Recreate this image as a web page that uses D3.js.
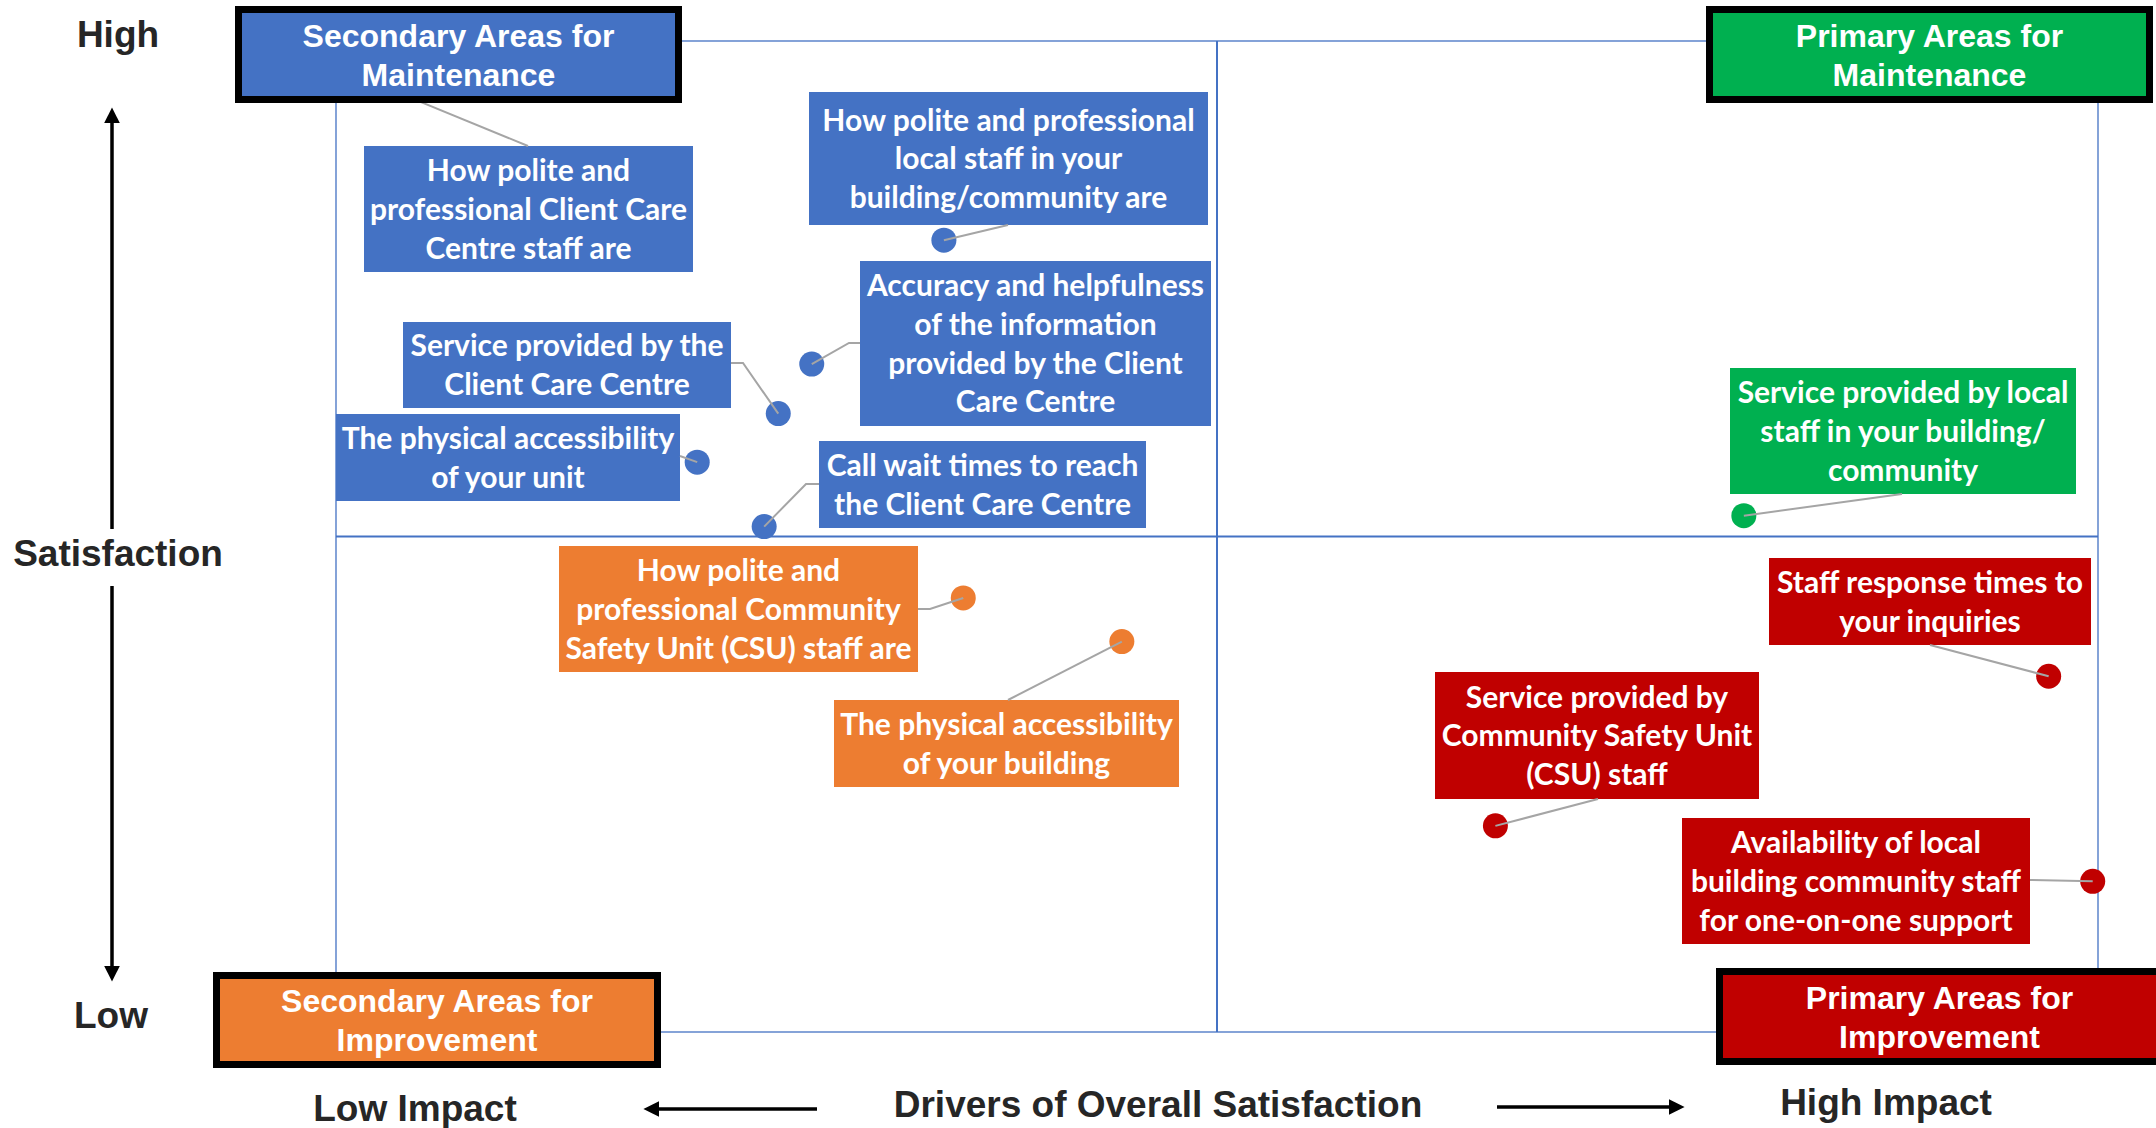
<!DOCTYPE html>
<html>
<head>
<meta charset="utf-8">
<script src="https://cdn.jsdelivr.net/npm/d3@7"></script>
<style>
  body { margin: 0; background: #fff; }
</style>
</head>
<body>
<div id="chart"></div>
<script>
// drivers of overall satisfaction, with impact (x) and satisfaction (y) on a 0-100 scale
var drivers = [
  "How polite and professional local staff in your building/community are",
  "How polite and professional Client Care Centre staff are",
  "Service provided by the Client Care Centre",
  "Accuracy and helpfulness of the information provided by the Client Care Centre",
  "The physical accessibility of your unit",
  "Call wait times to reach the Client Care Centre",
  "How polite and professional Community Safety Unit (CSU) staff are",
  "The physical accessibility of your building",
  "Service provided by local staff in your building/ community",
  "Staff response times to your inquiries",
  "Service provided by Community Safety Unit (CSU) staff",
  "Availability of local building community staff for one-on-one support"
];
var impact = [34.5, 3.1, 25.1, 27.0, 20.5, 24.3, 35.6, 44.6, 79.9, 97.2, 65.8, 99.7];
var satisfaction = [79.9, 95.1, 62.4, 67.4, 57.5, 51.0, 43.8, 39.4, 52.1, 35.9, 20.8, 15.2];

// the label text, broken into lines as in the original
var labelLines = [
  ["How polite and professional", "local staff in your", "building/community are"],
  ["How polite and", "professional Client Care", "Centre staff are"],
  ["Service provided by the", "Client Care Centre"],
  ["Accuracy and helpfulness", "of the information", "provided by the Client", "Care Centre"],
  ["The physical accessibility", "of your unit"],
  ["Call wait times to reach", "the Client Care Centre"],
  ["How polite and", "professional Community", "Safety Unit (CSU) staff are"],
  ["The physical accessibility", "of your building"],
  ["Service provided by local", "staff in your building/", "community"],
  ["Staff response times to", "your inquiries"],
  ["Service provided by", "Community Safety Unit", "(CSU) staff"],
  ["Availability of local", "building community staff", "for one-on-one support"]
];

// quadrants, in order: low impact/high sat, high/high, low/low, high impact/low sat
var quadrantNames = [
  ["Secondary Areas for", "Maintenance"],
  ["Primary Areas for", "Maintenance"],
  ["Secondary Areas for", "Improvement"],
  ["Primary Areas for", "Improvement"]
];
var quadrantColors = ["#4472C4", "#00B050", "#ED7D31", "#C00000"];

// ---- layout (pixels) ----
var W = 2156, H = 1128;
var frame = {left: 336, right: 2098, top: 41, bottom: 1032};

// label boxes [x, y, w, h] and the leader path end (optional elbow first)
var labelBoxes = [
  {box: [809, 92, 399, 133],  leader: [[1008, 225]]},
  {box: [364, 146, 329, 126], leader: [[528, 146]]},
  {box: [403, 322, 328, 86],  leader: [[743, 363], [731, 363]]},
  {box: [860, 261, 351, 165], leader: [[849, 343], [860, 343]]},
  {box: [336, 414, 344, 87],  leader: [[680, 456]]},
  {box: [819, 441, 327, 87],  leader: [[806, 484], [819, 484]]},
  {box: [559, 546, 359, 126], leader: [[930, 609], [918, 609]]},
  {box: [834, 700, 345, 87],  leader: [[1008, 700]]},
  {box: [1730, 368, 346, 126], leader: [[1902, 494]]},
  {box: [1769, 558, 322, 87], leader: [[1930, 645]]},
  {box: [1435, 672, 324, 127], leader: [[1598, 799]]},
  {box: [1682, 818, 348, 126], leader: [[2030, 880]]}
];
var cornerBoxes = [
  [235, 6, 447, 97],
  [1706, 6, 447, 97],
  [213, 972, 448, 96],
  [1716, 968, 447, 97]
];

var svg = d3.select("#chart")
  .append("svg")
    .attr("width", W)
    .attr("height", H)
    .style("display", "block");

var x = d3.scaleLinear().domain([0, 100]).range([frame.left, frame.right]);
var y = d3.scaleLinear().domain([0, 100]).range([frame.bottom, frame.top]);

function quadrant(i) {
  var hi = impact[i] >= 50, hs = satisfaction[i] >= 50;
  if (hs) return hi ? 1 : 0;
  return hi ? 3 : 2;
}

var data = drivers.map(function(d, i) {
  return {name: d, impact: impact[i], sat: satisfaction[i], lines: labelLines[i],
          layout: labelBoxes[i], q: quadrant(i)};
});

// frame and quadrant dividers
var grid = svg.append("g");
grid.append("rect")
  .attr("x", x(0)).attr("y", y(100))
  .attr("width", x(100) - x(0)).attr("height", y(0) - y(100))
  .attr("fill", "none").attr("stroke", "#4472C4").attr("stroke-width", 1.3);
grid.append("line")
  .attr("x1", x(50)).attr("x2", x(50)).attr("y1", y(100)).attr("y2", y(0))
  .attr("stroke", "#4472C4").attr("stroke-width", 2);
grid.append("line")
  .attr("x1", x(0)).attr("x2", x(100)).attr("y1", y(50)).attr("y2", y(50))
  .attr("stroke", "#4472C4").attr("stroke-width", 2);

// label boxes
var labels = svg.append("g").selectAll("g").data(data).enter().append("g");
labels.append("rect")
  .attr("x", function(d) { return d.layout.box[0]; })
  .attr("y", function(d) { return d.layout.box[1]; })
  .attr("width", function(d) { return d.layout.box[2]; })
  .attr("height", function(d) { return d.layout.box[3]; })
  .attr("fill", function(d) { return quadrantColors[d.q]; });

var lineH = 38.7;
labels.each(function(d) {
  var g = d3.select(this);
  var b = d.layout.box;
  var cx = b[0] + b[2] / 2, cy = b[1] + b[3] / 2;
  d.lines.forEach(function(t, k) {
    var ly = cy + (k - (d.lines.length - 1) / 2) * lineH;
    g.append("text")
      .attr("x", cx).attr("y", ly)
      .attr("dy", "0.36em")
      .attr("text-anchor", "middle")
      .attr("font-family", "Lato, 'Open Sans', sans-serif")
      .attr("font-weight", "bold")
      .attr("font-size", "30px")
      .attr("fill", "#fff")
      .text(t);
  });
});

// points
svg.append("g").selectAll("circle").data(data).enter().append("circle")
  .attr("cx", function(d) { return x(d.impact); })
  .attr("cy", function(d) { return y(d.sat); })
  .attr("r", 12.5)
  .attr("fill", function(d) { return quadrantColors[d.q]; });

// leader lines, drawn from the point centre to the label
svg.append("g").selectAll("path").data(data).enter().append("path")
  .attr("d", function(d) {
    return d3.line()([[x(d.impact), y(d.sat)]].concat(d.layout.leader));
  })
  .attr("fill", "none")
  .attr("stroke", "#A5A5A5")
  .attr("stroke-width", 2);

// quadrant title boxes
var corners = svg.append("g").selectAll("g").data(quadrantNames).enter().append("g");
corners.append("rect")
  .attr("x", function(d, i) { return cornerBoxes[i][0] + 3.5; })
  .attr("y", function(d, i) { return cornerBoxes[i][1] + 3.5; })
  .attr("width", function(d, i) { return cornerBoxes[i][2] - 7; })
  .attr("height", function(d, i) { return cornerBoxes[i][3] - 7; })
  .attr("fill", function(d, i) { return quadrantColors[i]; })
  .attr("stroke", "#000")
  .attr("stroke-width", 7);
corners.each(function(d, i) {
  var b = cornerBoxes[i];
  var g = d3.select(this);
  d.forEach(function(t, k) {
    g.append("text")
      .attr("x", b[0] + b[2] / 2)
      .attr("y", b[1] + b[3] / 2 + (k - 0.5) * 39)
      .attr("dy", "0.36em")
      .attr("text-anchor", "middle")
      .attr("font-family", "'Liberation Sans', Arial, sans-serif")
      .attr("font-weight", "bold")
      .attr("font-size", "32px")
      .attr("fill", "#fff")
      .text(t);
  });
});

// axis titles
var axisText = svg.append("g")
  .attr("font-family", "'Liberation Sans', Arial, sans-serif")
  .attr("font-weight", "bold")
  .attr("font-size", "37px")
  .attr("fill", "#262626")
  .attr("text-anchor", "middle");
axisText.append("text").attr("x", 118).attr("y", 47).text("High");
axisText.append("text").attr("x", 111).attr("y", 1028).text("Low");
axisText.append("text").attr("x", 118).attr("y", 566).text("Satisfaction");
axisText.append("text").attr("x", 415).attr("y", 1121).text("Low Impact");
axisText.append("text").attr("x", 1158).attr("y", 1117).text("Drivers of Overall Satisfaction");
axisText.append("text").attr("x", 1886).attr("y", 1115).text("High Impact");

// arrows
var defs = svg.append("defs");
defs.append("marker")
  .attr("id", "head")
  .attr("viewBox", "0 0 10 10")
  .attr("refX", 2).attr("refY", 5)
  .attr("markerWidth", 4.5).attr("markerHeight", 4.5)
  .attr("orient", "auto")
  .append("path").attr("d", "M0,0L10,5L0,10Z").attr("fill", "#000");

var arrows = [
  [[112, 529], [112, 120]],
  [[112, 586], [112, 969]],
  [[817, 1109], [656, 1109]],
  [[1497, 1107], [1672, 1107]]
];
svg.append("g").selectAll("path").data(arrows).enter().append("path")
  .attr("d", function(d) { return d3.line()(d); })
  .attr("stroke", "#000")
  .attr("stroke-width", 3.5)
  .attr("marker-end", "url(#head)");
</script>
</body>
</html>
